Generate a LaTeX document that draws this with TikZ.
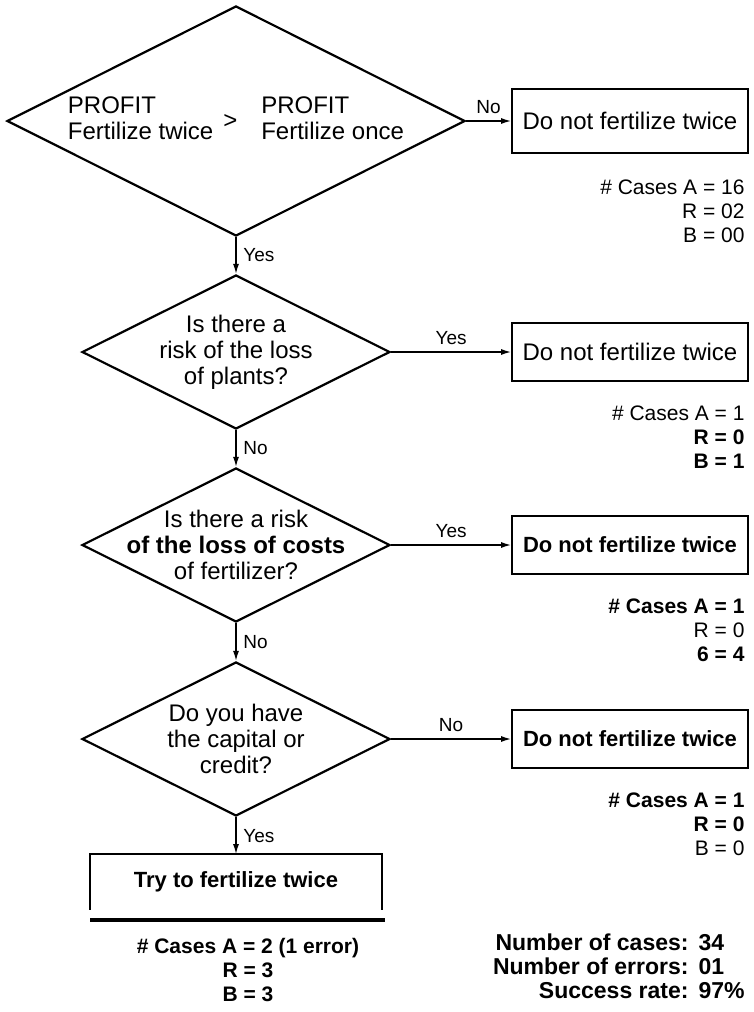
\documentclass[tikz,border=0pt]{standalone}
\usepackage{fontspec}
\setmainfont{Liberation Sans}
\usetikzlibrary{shapes.geometric,positioning,arrows.meta}

\begin{document}
\begin{tikzpicture}[x=0.5pt,y=-0.5pt,>={Latex[length=5pt,width=3pt]},on grid,auto,
 decision/.style={diamond,draw,line width=1.1pt,shape aspect=2,inner sep=0pt,minimum width=154pt,minimum height=77pt,align=center,font=\fontsize{12}{13}\selectfont},
 outcome/.style={rectangle,draw,line width=0.9pt,minimum width=118pt,minimum height=29pt,font=\fontsize{12}{14}\selectfont},
 strong/.style={font=\bfseries\fontsize{11}{13}\selectfont},
 tally/.style={inner sep=0pt,align=right,font=\fontsize{10.5}{12}\selectfont},
 answer/.style={font=\fontsize{9.5}{10}\selectfont},
 every edge/.style={draw,line width=0.7pt}]
\fill[white] (0,0) rectangle (754,1012); \useasboundingbox (0,0) rectangle (754,1012);
\node[decision,minimum width=229pt,minimum height=115pt] (d1) at (236,121) {\begin{tabular}{@{}l@{\hspace{5pt}}c@{\hspace{12pt}}l@{}}PROFIT && PROFIT\\ Fertilize twice & \smash{\raisebox{5.5pt}{>}} & Fertilize\ once\end{tabular}};
\node[decision] (d2) [below=115.5pt of d1] {Is there a\\risk of the loss\\of plants?};
\node[decision,inner xsep=-20pt] (d3) [below=96.5pt of d2] {Is there a risk\\\textbf{of the loss of costs}\\of fertilizer?};
\node[decision] (d4) [below=97pt of d3] {Do you have\\the capital or\\credit?};
\node[outcome,minimum height=32pt] (b1) [right=197pt of d1] {Do not fertilize twice}; \node[outcome] (b2) [right=197pt of d2] {Do not fertilize twice};
\node[outcome,strong] (b3) [right=197pt of d3] {Do not fertilize twice}; \node[outcome,strong] (b4) [right=197pt of d4] {Do not fertilize twice};
\node[outcome,strong,draw=none,minimum width=145pt,minimum height=27pt] (try) [below=71.5pt of d4] {Try to fertilize twice};
\path[->] (d1) edge node[answer] {No} (b1) edge node[answer] {Yes} (d2)
 (d2) edge node[answer] {Yes} (b2) edge node[answer] {No} (d3)
 (d3) edge node[answer] {Yes} (b3) edge node[answer] {No} (d4)
 (d4) edge node[answer] {No} (b4) edge node[answer] {Yes} (try);
\draw[line width=0.9pt] (try.south west) -- (try.north west) -- (try.north east) -- (try.south east);
\draw[line width=1.6pt] ([yshift=-5pt]try.south west) -- ([xshift=1.5pt,yshift=-5pt]try.south east);
% case counts
\node[tally,anchor=north east] (n1) at ([xshift=-2pt,yshift=-13pt]b1.south east) {\#~Cases A = 16\\R = 02\\B = 00};
\node[tally,anchor=north east] (n2) at ([xshift=-2pt,yshift=-12pt]b2.south east) {\#~Cases A = 1\\\textbf{R = 0}\\\textbf{B = 1}};
\node[tally,anchor=north east] (n3) at ([xshift=-2pt,yshift=-12pt]b3.south east) {\textbf{\#~Cases A = 1}\\R = 0\\\textbf{6 = 4}};
\node[tally,anchor=north east] (n4) at ([xshift=-2pt,yshift=-12pt]b4.south east) {\textbf{\#~Cases A = 1}\\\textbf{R = 0}\\B = 0};
\node[tally,anchor=north,align=center,font=\bfseries\fontsize{10.5}{12}\selectfont] (nt) at ([xshift=6pt,yshift=-14pt]try.south) {\#~Cases A = 2 (1 error)\\R = 3\\B = 3};
\node[tally,anchor=north east,font=\bfseries\fontsize{11.5}{12}\selectfont] (stats) at (745,933) {\begin{tabular}{@{}r@{\hspace{5pt}}l@{}}Number of cases: & 34\\Number of errors: & 01\\Success rate: & 97\%\end{tabular}};
\end{tikzpicture}
\end{document}
